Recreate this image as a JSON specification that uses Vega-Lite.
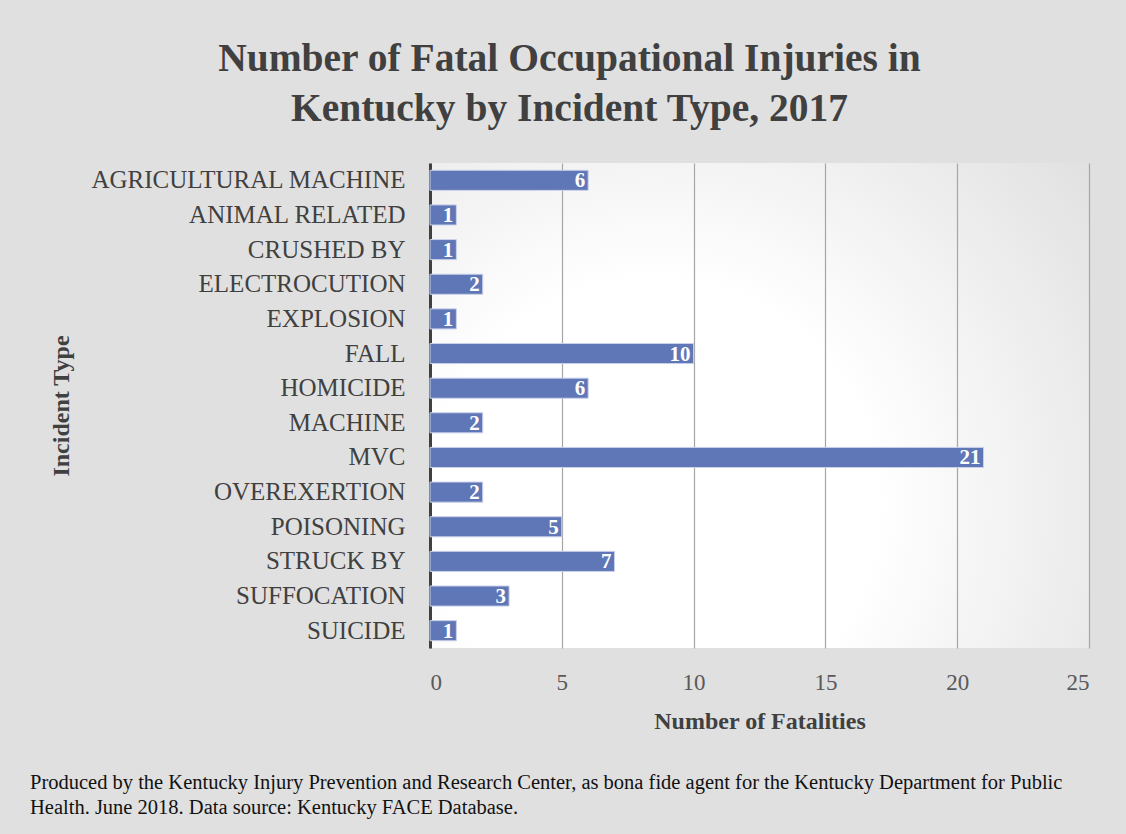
{
  "$schema": "https://vega.github.io/schema/vega-lite/v6.json",
  "background": "#e0e0e0",
  "padding": {"left": 30, "right": 39, "top": 38, "bottom": 16},
  "title": {
    "text": ["Number of Fatal Occupational Injuries in", "Kentucky by Incident Type, 2017"],
    "font": "Liberation Serif",
    "fontSize": 39.5,
    "fontWeight": "bold",
    "color": "#404040",
    "lineHeight": 50,
    "anchor": "middle",
    "frame": "bounds",
    "offset": 34,
    "dx": 10
  },
  "config": {
    "font": "Liberation Serif",
    "view": {"stroke": null}
  },
  "vconcat": [
    {
      "width": 659,
      "height": 485,
      "view": {
        "stroke": null,
        "fill": {
          "gradient": "radial",
          "x1": 0.34, "y1": 0.65, "r1": 0,
          "x2": 0.34, "y2": 0.65, "r2": 0.85,
          "stops": [
            {"offset": 0, "color": "#ffffff"},
            {"offset": 0.4, "color": "#ffffff"},
            {"offset": 1, "color": "#e0e0e0"}
          ]
        }
      },
      "title": {
        "text": ["Produced by the Kentucky Injury Prevention and Research Center, as bona fide agent for the Kentucky Department for Public", "Health. June 2018. Data source: Kentucky FACE Database."],
        "orient": "bottom",
        "anchor": "start",
        "frame": "bounds",
        "font": "Liberation Serif",
        "fontSize": 20.5,
        "fontWeight": "normal",
        "color": "#111111",
        "lineHeight": 25,
        "offset": 40,
        "dx": -19
      },
      "data": {
        "values": [
          {"type": "AGRICULTURAL MACHINE", "n": 6},
          {"type": "ANIMAL RELATED", "n": 1},
          {"type": "CRUSHED BY", "n": 1},
          {"type": "ELECTROCUTION", "n": 2},
          {"type": "EXPLOSION", "n": 1},
          {"type": "FALL", "n": 10},
          {"type": "HOMICIDE", "n": 6},
          {"type": "MACHINE", "n": 2},
          {"type": "MVC", "n": 21},
          {"type": "OVEREXERTION", "n": 2},
          {"type": "POISONING", "n": 5},
          {"type": "STRUCK BY", "n": 7},
          {"type": "SUFFOCATION", "n": 3},
          {"type": "SUICIDE", "n": 1}
        ]
      },
      "encoding": {
        "y": {
          "field": "type",
          "type": "nominal",
          "sort": null,
          "scale": {"paddingInner": 0.42, "paddingOuter": 0.21},
          "axis": {
            "title": "Incident Type",
            "titleFont": "Liberation Serif",
            "titleFontSize": 24,
            "titleFontWeight": "bold",
            "titleColor": "#404040",
            "titleX": -357,
            "labelFont": "Liberation Serif",
            "labelFontSize": 25,
            "labelColor": "#404040",
            "labelPadding": 25,
            "ticks": false,
            "domain": true,
            "domainColor": "#404040",
            "domainWidth": 3,
            "grid": false,
            "labelLimit": 400
          }
        },
        "x": {
          "field": "n",
          "type": "quantitative",
          "scale": {"domain": [0, 25], "nice": false},
          "axis": {
            "values": [0, 5, 10, 15, 20, 25],
            "title": "Number of Fatalities",
            "titleFont": "Liberation Serif",
            "titleFontSize": 24,
            "titleFontWeight": "bold",
            "titleColor": "#404040",
            "titlePadding": 15,
            "labelFont": "Liberation Serif",
            "labelFontSize": 23,
            "labelColor": "#595959",
            "labelPadding": 23,
            "ticks": false,
            "domain": false,
            "grid": true,
            "gridColor": "#a6a6a6",
            "gridWidth": 1.2
          }
        }
      },
      "layer": [
        {
          "mark": {"type": "bar", "color": "#5f77b7", "stroke": "#c9d1ea", "strokeWidth": 1}
        },
        {
          "mark": {"type": "text", "align": "right", "baseline": "middle", "dx": -3, "dy": 1, "color": "#ffffff", "fontWeight": "bold", "fontSize": 21, "font": "Liberation Serif"},
          "encoding": {"text": {"field": "n", "type": "quantitative"}}
        }
      ]
    }
  ]
}
